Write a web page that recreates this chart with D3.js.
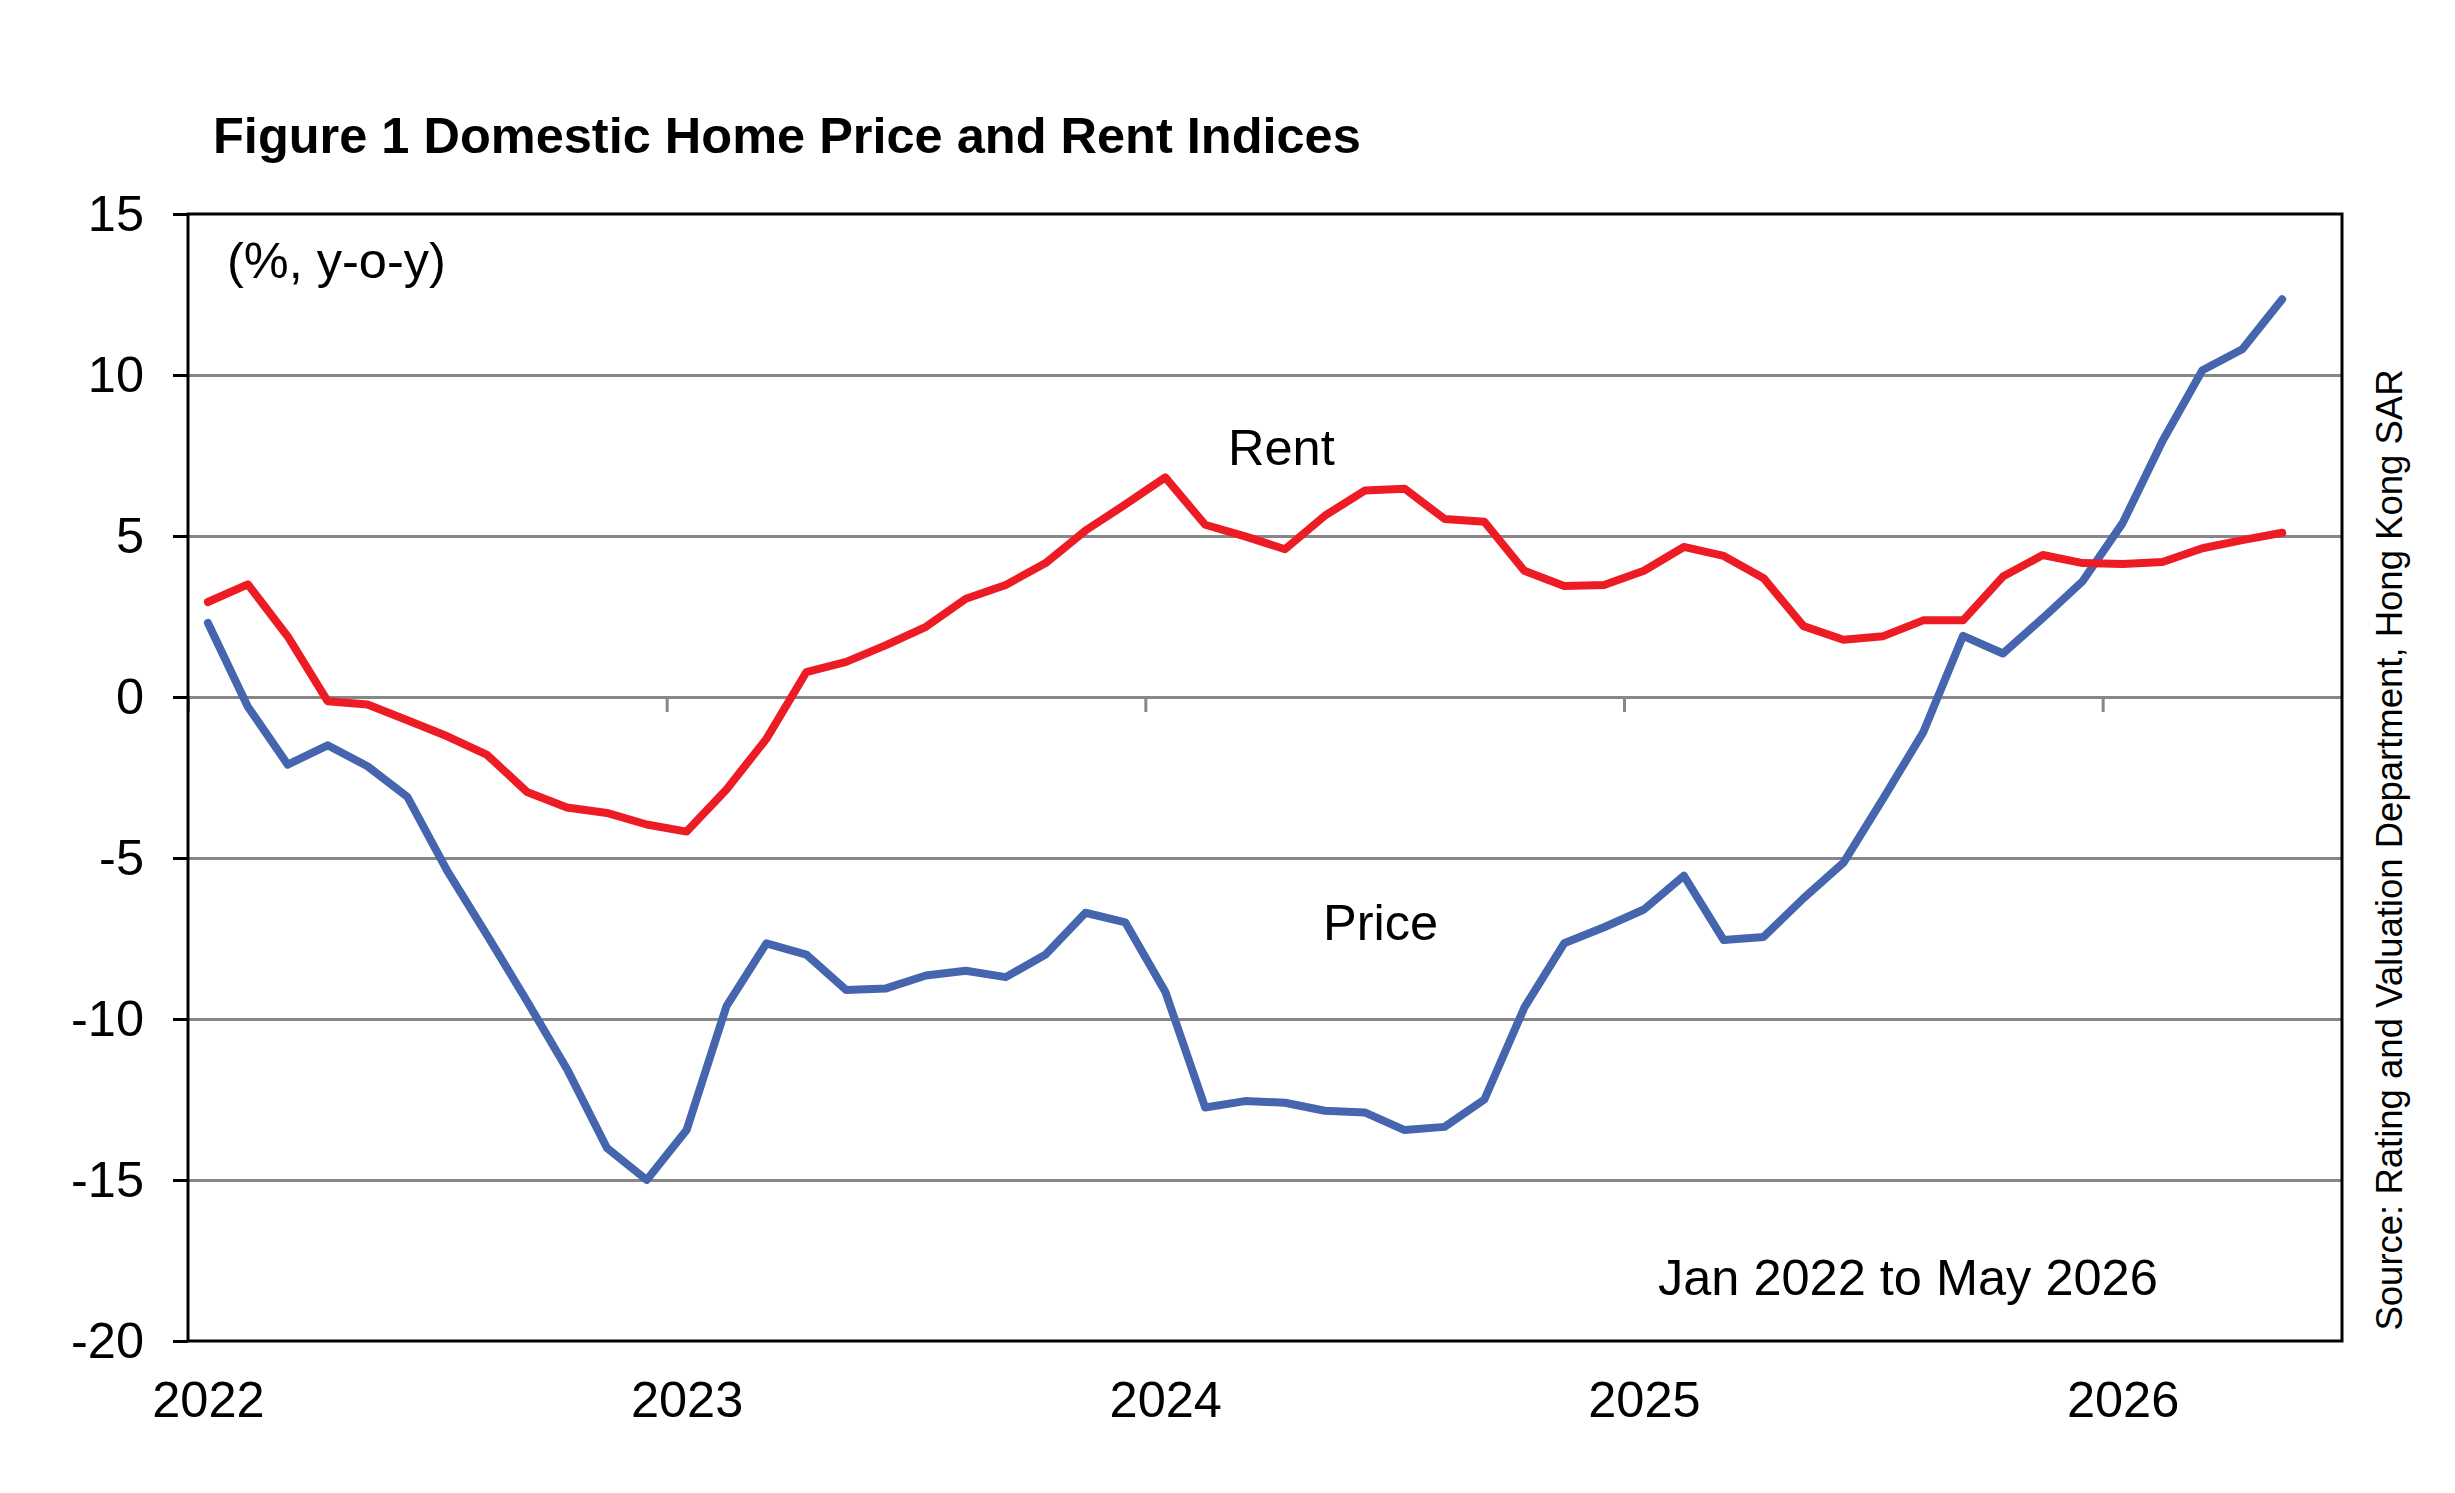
<!DOCTYPE html>
<html>
<meta charset="utf-8">
<style>
body {
  margin: 0;
  background-color: #ffffff;
}

svg text {
  font-family: "Liberation Sans", Arial, sans-serif;
  fill: #000;
}

.grid line {
  stroke: #878787;
  stroke-width: 3px;
}

.y-axis line {
  stroke: #000;
  stroke-width: 3px;
}

.x-ticks line {
  stroke: #878787;
  stroke-width: 3px;
}

.axis text {
  font-size: 50.5px;
}

.domain {
  display: none;
}

.line {
  fill: none;
  stroke-width: 8px;
  stroke-linejoin: round;
  stroke-linecap: round;
}
</style>
<body>
<script src="https://cdnjs.cloudflare.com/ajax/libs/d3/7.8.5/d3.min.js"></script>
<script>

// categories: months Jan 2022 .. Jun 2026 (last slot has no data)
var months = d3.timeMonths(new Date(2022, 0, 1), new Date(2026, 6, 1));
var years = ["2022", "2023", "2024", "2025", "2026"];
var yTicks = [-20, -15, -10, -5, 0, 5, 10, 15];

// year-on-year change, %, Jan 2022 to May 2026
var price = [
  2.3, -0.3, -2.1, -1.5, -2.15, -3.1, -5.4, -7.4, -9.45, -11.55, -14.0, -15.0,
  -13.45, -9.6, -7.65, -8.0, -9.1, -9.05, -8.65, -8.5, -8.7, -8.0, -6.7, -7.0,
  -9.15, -12.75, -12.55, -12.6, -12.85, -12.9, -13.45, -13.35, -12.5, -9.65, -7.65, -7.15,
  -6.6, -5.55, -7.55, -7.45, -6.25, -5.15, -3.15, -1.1, 1.9, 1.35, 2.45, 3.6,
  5.4, 7.95, 10.15, 10.8, 12.35
];

var rent = [
  2.95, 3.5, 1.88, -0.13, -0.23, -0.72, -1.22, -1.8, -2.95, -3.43, -3.6, -3.96,
  -4.18, -2.87, -1.3, 0.77, 1.09, 1.61, 2.18, 3.05, 3.48, 4.16, 5.17, 5.98,
  6.82, 5.35, 4.99, 4.59, 5.63, 6.41, 6.47, 5.53, 5.44, 3.92, 3.45, 3.48,
  3.92, 4.66, 4.38, 3.69, 2.2, 1.78, 1.89, 2.38, 2.38, 3.74, 4.41, 4.16,
  4.13, 4.19, 4.62, 4.87, 5.1
];

var W = 2455, H = 1493;
var margin = {top: 214, right: 113, bottom: 152, left: 188},
    width = W - margin.left - margin.right,
    height = H - margin.top - margin.bottom;

var svg = d3.select("body")
    .append("svg")
    .attr("width", W)
    .attr("height", H);

var g = svg.append("g")
    .attr("transform", "translate(" + margin.left + "," + margin.top + ")");

// month index scale, a point sits in the middle of its month slot
var x = d3.scaleLinear()
    .domain([0, months.length])
    .range([0, width]);

var y = d3.scaleLinear()
    .domain([-20, 15])
    .range([height, 0]);

// gridlines
g.append("g")
    .attr("class", "grid")
    .call(d3.axisLeft(y)
      .tickValues(yTicks.filter(function(d) { return d > -20 && d < 15; }))
      .tickSize(-width)
      .tickFormat(""));

// y axis
g.append("g")
    .attr("class", "axis y-axis")
    .call(d3.axisLeft(y)
      .tickValues(yTicks)
      .tickSize(15)
      .tickPadding(29)
      .tickFormat(function(d) { return String(d); }));

// year boundary ticks on the zero line
var yearStarts = years.map(function(d, i) { return i * 12; });

g.append("g")
    .attr("class", "x-ticks")
    .attr("transform", "translate(0," + y(0) + ")")
    .call(d3.axisBottom(x)
      .tickValues(yearStarts)
      .tickSize(15)
      .tickFormat(""));

// year labels under the plot, centred on January
g.append("g")
    .attr("class", "axis x-axis")
    .attr("transform", "translate(0," + height + ")")
    .call(d3.axisBottom(x)
      .tickValues(yearStarts.map(function(d) { return d + 0.5; }))
      .tickSize(0)
      .tickPadding(40)
      .tickFormat(function(d, i) { return years[i]; }));

var line = d3.line()
    .x(function(d, i) { return x(i + 0.5); })
    .y(function(d) { return y(d); });

g.append("path")
    .datum(price)
    .attr("class", "line")
    .attr("stroke", "#4565ae")
    .attr("d", line);

g.append("path")
    .datum(rent)
    .attr("class", "line")
    .attr("stroke", "#ed1c24")
    .attr("d", line);

// plot frame
g.append("rect")
    .attr("width", width)
    .attr("height", height)
    .attr("fill", "none")
    .attr("stroke", "#000")
    .attr("stroke-width", 3);

// texts
svg.append("text")
    .attr("x", 213)
    .attr("y", 153)
    .style("font-size", "50.5px")
    .style("font-weight", "bold")
    .text("Figure 1 Domestic Home Price and Rent Indices");

svg.append("text")
    .attr("x", 227)
    .attr("y", 278)
    .style("font-size", "50.5px")
    .text("(%, y-o-y)");

svg.append("text")
    .attr("x", 1228)
    .attr("y", 465)
    .style("font-size", "50.5px")
    .text("Rent");

svg.append("text")
    .attr("x", 1323)
    .attr("y", 940)
    .style("font-size", "50.5px")
    .text("Price");

svg.append("text")
    .attr("x", 1658)
    .attr("y", 1295)
    .style("font-size", "50.5px")
    .text("Jan 2022 to May 2026");

svg.append("text")
    .attr("transform", "translate(2402,850) rotate(-90)")
    .style("font-size", "36.5px")
    .style("text-anchor", "middle")
    .text("Source: Rating and Valuation Department, Hong Kong SAR");

</script>
</body>
</html>
